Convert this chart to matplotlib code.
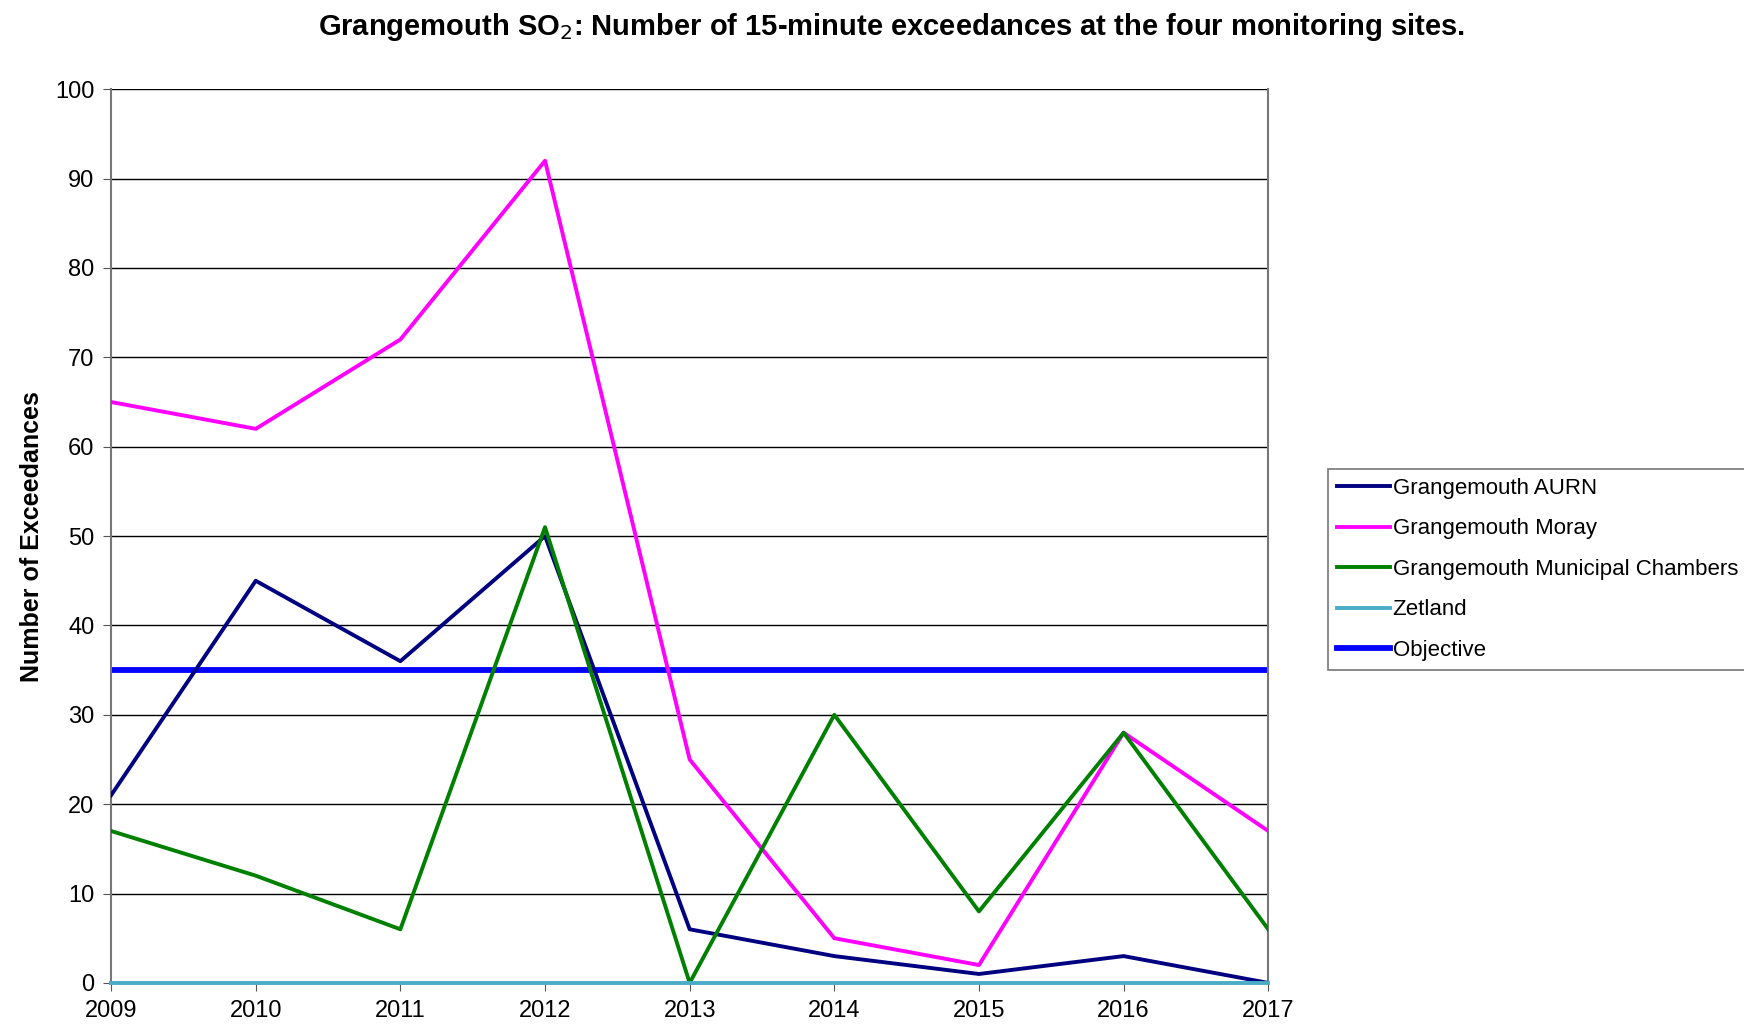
import matplotlib
matplotlib.use("Agg")
import matplotlib.pyplot as plt

plt.rcParams['font.family'] = ['Liberation Sans', 'DejaVu Sans']

years = [2009, 2010, 2011, 2012, 2013, 2014, 2015, 2016, 2017]
aurn = [21, 45, 36, 50, 6, 3, 1, 3, 0]
moray = [65, 62, 72, 92, 25, 5, 2, 28, 17]
municipal = [17, 12, 6, 51, 0, 30, 8, 28, 6]
zetland = [0, 0, 0, 0, 0, 0, 0, 0, 0]
objective = [35] * len(years)

fig = plt.figure(figsize=(17.44, 10.26), dpi=100)
ax = fig.add_axes([0.0637, 0.042, 0.6635, 0.871])

for y in range(10, 101, 10):
    ax.axhline(y, color='black', lw=1.0, zorder=1)

ax.plot(years, aurn, color='#000080', lw=2.8, label='Grangemouth AURN', zorder=3)
ax.plot(years, moray, color='#FF00FF', lw=2.8, label='Grangemouth Moray', zorder=3)
ax.plot(years, municipal, color='#008000', lw=2.8, label='Grangemouth Municipal Chambers', zorder=4)
ax.plot(years, zetland, color='#4BACC6', lw=2.8, label='Zetland', zorder=5, clip_on=False)
ax.plot(years, objective, color='#0000FF', lw=4.2, label='Objective', zorder=2)

ax.set_xlim(2009, 2017)
ax.set_ylim(0, 100)
ax.set_xticks(years)
ax.set_yticks(range(0, 101, 10))
ax.tick_params(axis='both', direction='out', length=6, color='#555555')
ax.tick_params(axis='y', labelsize=17, pad=6)
ax.tick_params(axis='x', labelsize=17, pad=6)
for s in ['left', 'right']:
    ax.spines[s].set_color('#777777')
    ax.spines[s].set_linewidth(1.5)
ax.spines['top'].set_visible(False)
ax.spines['bottom'].set_color('#777777')

ax.set_ylabel('Number of Exceedances', fontsize=18, fontweight='bold', labelpad=8)
fig.text(0.511, 0.974, r'Grangemouth SO$_2$: Number of 15-minute exceedances at the four monitoring sites.',
         ha='center', va='center', fontsize=21, fontweight='bold')

leg = fig.legend(loc='upper left', bbox_to_anchor=(0.7615, 0.543), fontsize=16,
                 frameon=True, fancybox=False, edgecolor='#555555', handlelength=2.4,
                 handletextpad=0.1, labelspacing=0.88, borderaxespad=0)
leg.get_frame().set_linewidth(1.2)

fig.savefig('out.png', dpi=100)
